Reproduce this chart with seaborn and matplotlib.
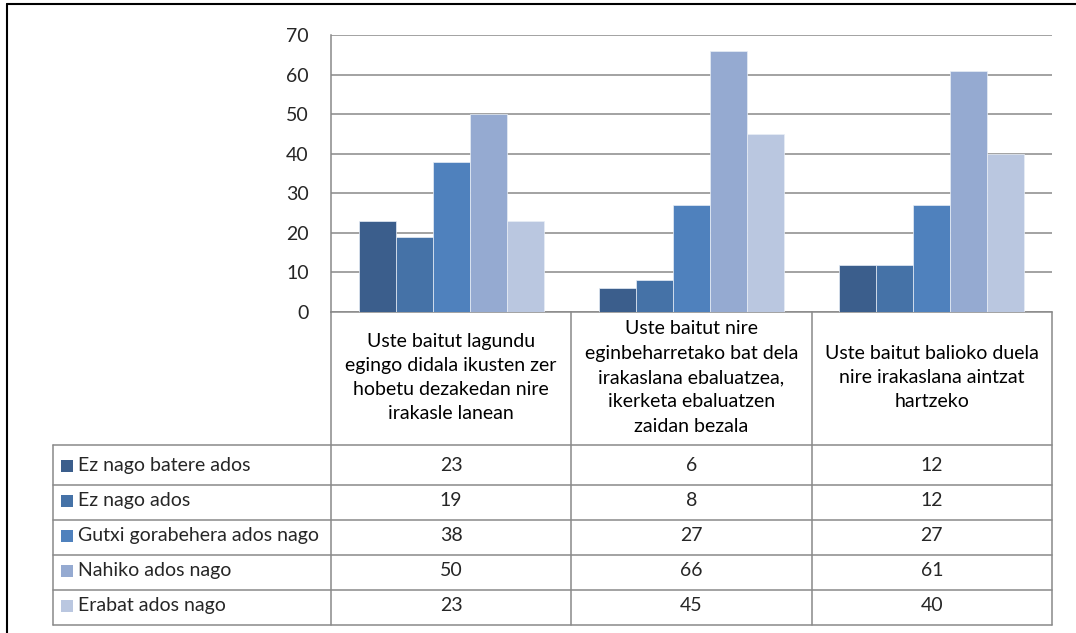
import matplotlib
matplotlib.use("Agg")
import matplotlib.pyplot as plt
import seaborn as sns
import pandas as pd
from matplotlib.lines import Line2D
from matplotlib.patches import Rectangle

# chart data
categories = [
    "Uste baitut lagundu\negingo didala ikusten zer\nhobetu dezakedan nire\nirakasle lanean",
    "Uste baitut nire\neginbeharretako bat dela\nirakaslana ebaluatzea,\nikerketa ebaluatzen\nzaidan bezala",
    "Uste baitut balioko duela\nnire irakaslana aintzat\nhartzeko",
]
series = ["Ez nago batere ados", "Ez nago ados", "Gutxi gorabehera ados nago",
          "Nahiko ados nago", "Erabat ados nago"]
ez_batere_ados = [23, 6, 12]
ez_ados = [19, 8, 12]
gutxi_gorabehera = [38, 27, 27]
nahiko_ados = [50, 66, 61]
erabat_ados = [23, 45, 40]
values = [ez_batere_ados, ez_ados, gutxi_gorabehera, nahiko_ados, erabat_ados]
yticks = [0, 10, 20, 30, 40, 50, 60, 70]

colors = ["#3B5E8C", "#4572A7", "#4F81BD", "#95AAD1", "#BAC7E0"]
grid_col = "#898989"

rows = []
for s, vals in zip(series, values):
    for c, v in zip(categories, vals):
        rows.append({"galdera": c, "erantzuna": s, "balioa": v})
df = pd.DataFrame(rows)

sns.set_style("white")
plt.rcParams["font.family"] = ["Lato", "DejaVu Sans"]
FS = 14

W, H = 1076, 633
fig = plt.figure(figsize=(W / 100, H / 100), dpi=100)


def fx(px):
    return px / W


def fy(py):
    return 1 - py / H


# bar chart
ax = fig.add_axes([fx(331), fy(312), fx(1052) - fx(331), fy(35) - fy(312)])
sns.barplot(data=df, x="galdera", y="balioa", hue="erantzuna", order=categories,
            hue_order=series, palette=colors, saturation=1, width=0.77, gap=0,
            ax=ax, edgecolor="#E8EEF6", linewidth=0.5, legend=False, zorder=3)
ax.set_xlim(-0.5, 2.5)
ax.set_ylim(0, 70)
ax.set_yticks(yticks)
ax.set_yticklabels([str(t) for t in yticks], fontsize=FS)
ax.set_xticks([])
ax.set_xlabel("")
ax.set_ylabel("")
ax.yaxis.grid(True, color=grid_col, linewidth=1.1, zorder=0)
ax.set_axisbelow(True)
for side in ["top", "right"]:
    ax.spines[side].set_visible(False)
for side in ["left", "bottom"]:
    ax.spines[side].set_color(grid_col)
    ax.spines[side].set_linewidth(1.1)
ax.tick_params(axis="y", length=0, pad=16)

# data table below the chart
tab = fig.add_axes([fx(331), fy(625), fx(1052) - fx(331), fy(312) - fy(625)])
tab.set_xlim(-0.5, 2.5)
tab.set_ylim(0, 313)
tab.axis("off")
unit = (1052 - 331) / 3.0
x_left = -0.5 - (331 - 53) / unit
row_h = 35
n = len(series)
header_bot = n * row_h + 5

lk = dict(color=grid_col, linewidth=1.1, clip_on=False)
for i in range(n + 1):
    y = i * row_h if i < n else header_bot
    tab.add_line(Line2D([x_left, 2.5], [y, y], **lk))
tab.add_line(Line2D([x_left, x_left], [0, header_bot], **lk))
for xv in [-0.5, 0.5, 1.5, 2.5]:
    tab.add_line(Line2D([xv, xv], [0, 313], **lk))

for j, c in enumerate(categories):
    tab.text(j, (header_bot + 313) / 2 + 1, c, ha="center", va="center",
             fontsize=FS, linespacing=1.52, color="black")

for i, (s, vals) in enumerate(zip(series, values)):
    yc = header_bot - (i + 0.5) * row_h - 3
    tab.add_patch(Rectangle((x_left + 8 / unit, yc - 6), 12 / unit, 12,
                            facecolor=colors[i], edgecolor="none", clip_on=False))
    tab.text(x_left + 25 / unit, yc, s, ha="left", va="center", fontsize=FS,
             clip_on=False)
    for j, v in enumerate(vals):
        tab.text(j, yc, str(v), ha="center", va="center", fontsize=FS)

# outer frame (top and left edges)
fig.add_artist(Line2D([fx(7), 1], [fy(4), fy(4)], color="black", linewidth=1.5,
                      transform=fig.transFigure))
fig.add_artist(Line2D([fx(7), fx(7)], [fy(4), 0], color="black", linewidth=1.5,
                      transform=fig.transFigure))

fig.savefig("out.png", dpi=100, facecolor="white")
